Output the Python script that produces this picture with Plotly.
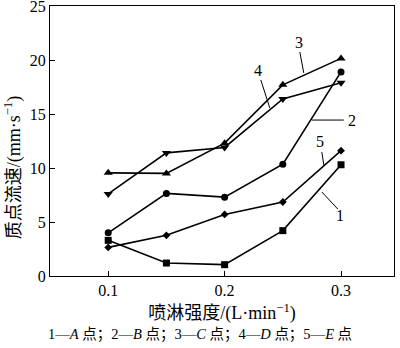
import plotly.graph_objects as go

# spray intensity (L/min)
spray = [0.1, 0.15, 0.2, 0.25, 0.3]

# particle flow velocity (mm/s) at points A..E
point_a = [3.3, 1.2, 1.05, 4.2, 10.3]
point_b = [4.0, 7.65, 7.3, 10.35, 18.9]
point_c = [9.55, 9.5, 12.3, 17.7, 20.15]
point_d = [7.6, 11.4, 11.9, 16.4, 17.9]
point_e = [2.65, 3.77, 5.7, 6.85, 11.6]

series = [
    (point_a, "square", 7),
    (point_b, "circle", 7),
    (point_c, "triangle-up", 8),
    (point_d, "triangle-down", 8),
    (point_e, "diamond", 6),
]

serif = "Liberation Serif, Times New Roman, Noto Sans CJK SC, serif"
cjk = "Liberation Serif, Noto Sans CJK SC, serif"

fig = go.Figure()
for vals, sym, sz in series:
    fig.add_trace(go.Scatter(
        x=spray, y=vals, mode="lines+markers",
        line=dict(color="black", width=1.6),
        marker=dict(symbol=sym, size=sz, color="black"),
        showlegend=False, cliponaxis=False,
    ))

# curve labels with leader lines: (text, label x, label y, line x0, y0, x1, y1)
labels = [
    ("3", 0.2637, 21.6, 0.2646, 20.74, 0.2680, 18.80),
    ("4", 0.2285, 19.0, 0.2311, 18.15, 0.2388, 15.56),
    ("2", 0.3095, 14.44, 0.2749, 14.44, 0.3024, 14.44),
    ("5", 0.2815, 12.45, 0.2835, 11.48, 0.2852, 10.28),
    ("1", 0.2992, 5.6, 0.2835, 7.78, 0.2972, 6.20),
]
for txt, lx, ly, x0, y0, x1, y1 in labels:
    fig.add_annotation(x=lx, y=ly, text=txt, showarrow=False,
                       font=dict(family=serif, size=16, color="black"))
    fig.add_shape(type="line", x0=x0, y0=y0, x1=x1, y1=y1,
                  line=dict(color="black", width=1))

# y-axis title, placed a little below the plot's middle
fig.add_annotation(
    xref="paper", yref="paper", x=-0.107, y=0.40, textangle=-90,
    xanchor="center", yanchor="middle",
    text="质点流速/(mm·s<sup>−1</sup>)", showarrow=False,
    font=dict(family=cjk, size=18, color="black"),
)

# caption, centred on the page
fig.add_annotation(
    xref="paper", yref="paper", x=0.436, y=-0.218, yanchor="middle",
    text="1—<i>A</i> 点；2—<i>B</i> 点；3—<i>C</i> 点；4—<i>D</i> 点；5—<i>E</i> 点",
    showarrow=False, font=dict(family=cjk, size=14.5, color="black"),
)

fig.update_xaxes(
    range=[0.05, 0.3455], tickvals=[0.1, 0.2, 0.3], ticktext=["0.1", "0.2", "0.3"],
    ticks="inside", ticklen=5, tickcolor="black", showgrid=False, zeroline=False,
    showline=True, linecolor="black", linewidth=1.2, mirror=True,
    automargin=False,
    tickfont=dict(family=serif, size=16, color="black"),
    title=dict(text="喷淋强度/(L·min<sup>−1</sup>)", standoff=8,
               font=dict(family=cjk, size=18, color="black")),
)
fig.update_yaxes(
    range=[0, 25], tickvals=[0, 5, 10, 15, 20, 25],
    ticks="inside", ticklen=5, tickcolor="black", showgrid=False, zeroline=False,
    showline=True, linecolor="black", linewidth=1.2, mirror=True,
    ticklabeloverflow="allow", automargin=False,
    tickfont=dict(family=serif, size=16, color="black"),
)
fig.update_layout(
    width=400, height=348,
    margin=dict(l=50, r=6, t=6, b=72),
    paper_bgcolor="white", plot_bgcolor="white",
)
fig.write_html("out.html")
